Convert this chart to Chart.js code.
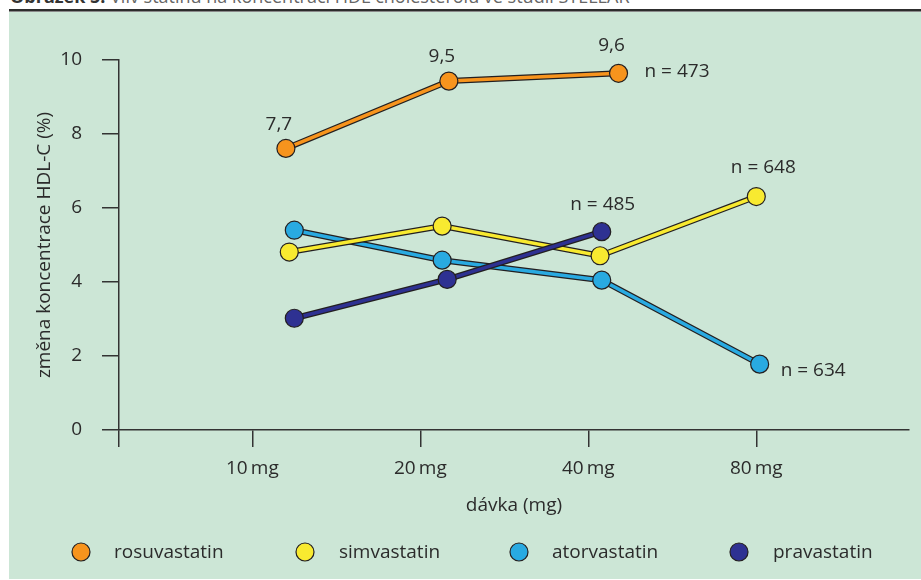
<!DOCTYPE html>
<html>
<head>
<meta charset="utf-8">
<script src="https://cdn.jsdelivr.net/npm/chart.js@4.4.1/dist/chart.umd.min.js"></script>
<style>
  body { margin: 0; background: #fff; width: 921px; height: 580px; overflow: hidden; position: relative; font-family: "Open Sans", sans-serif; }
  .caption { position: absolute; left: 10px; top: -13px; font-size: 18px; line-height: 18px; color: #666; white-space: nowrap; }
  .caption b { color: #333; }
  .rule { position: absolute; left: 9px; top: 9px; width: 912px; height: 2px; background: #2d2d2d; border-bottom: 1px solid #8a8a8a; }
  .panel { position: absolute; left: 9px; top: 12px; width: 912px; height: 567px; background: #cce6d6; }
</style>
</head>
<body>
<div class="caption"><b>Obrázek 5.</b> Vliv statinů na koncentraci HDL cholesterolu ve studii STELLAR</div>
<div class="rule"></div>
<div class="panel"><canvas id="myChart" width="912" height="567"></canvas></div>
<script>
// data
const doses = ["10\u2009mg", "20\u2009mg", "40\u2009mg", "80\u2009mg"];
const names = ["rosuvastatin", "simvastatin", "atorvastatin", "pravastatin"];
const colors = ["#f7941d", "#f8ea30", "#29aae1", "#2e3192"];

// x = dose position (1 = 10 mg ... 4 = 80 mg), points sit a bit right of the ticks
const rosuX = [1.2, 2.17, 3.18];
const rosuY = [7.61, 9.43, 9.64];
const simvaX = [1.22, 2.13, 3.07, 4.0];
const simvaY = [4.81, 5.51, 4.71, 6.31];
const atorX = [1.25, 2.13, 3.08, 4.02];
const atorY = [5.4, 4.59, 4.05, 1.78];
const pravaX = [1.25, 2.16, 3.08];
const pravaY = [3.02, 4.07, 5.36];

const rosuLabels = ["7,7", "9,5", "9,6"];
const nLabels = ["n = 473", "n = 648", "n = 634", "n = 485"];
const yTicks = [0, 2, 4, 6, 8, 10];

const dark = "#231f20";
const textColor = "#2b2b2b";
const font = { family: "'Open Sans'", size: 19 };

const xs = [rosuX, simvaX, atorX, pravaX];
const ys = [rosuY, simvaY, atorY, pravaY];
// drawing rank: 0 = bottom
const rank = [0, 2, 1, 3];

const datasets = [];
names.forEach((name, i) => {
  const pts = xs[i].map((x, j) => ({ x: x, y: ys[i][j] }));
  datasets.push({
    label: name,
    data: pts,
    borderColor: colors[i],
    borderWidth: 3.5,
    pointRadius: 9,
    pointBorderWidth: 1.2,
    pointBorderColor: dark,
    pointBackgroundColor: colors[i],
    order: 2 * (3 - rank[i]),
  });
  // dark casing under the coloured line
  datasets.push({
    label: name + "_case",
    data: pts,
    borderColor: dark,
    borderWidth: 6,
    pointRadius: 0,
    order: 2 * (3 - rank[i]) + 1,
  });
});

const labelPlugin = {
  id: "labels",
  afterDatasetsDraw(chart) {
    const ctx = chart.ctx;
    ctx.save();
    ctx.font = "19px 'Open Sans'";
    ctx.fillStyle = textColor;
    ctx.textBaseline = "middle";

    // value labels on rosuvastatin
    const rosu = chart.getDatasetMeta(0).data;
    ctx.textAlign = "center";
    const dy = [-24, -24, -28];
    rosu.forEach((p, i) => ctx.fillText(rosuLabels[i], p.x - 7, p.y + dy[i]));

    // n = ... at the end of each line
    const last = (i) => {
      const d = chart.getDatasetMeta(i * 2).data;
      return d[d.length - 1];
    };
    let p = last(0);
    ctx.textAlign = "left";
    ctx.fillText(nLabels[0], p.x + 26, p.y - 2);
    p = last(1);
    ctx.textAlign = "center";
    ctx.fillText(nLabels[1], p.x + 7, p.y - 29);
    p = last(2);
    ctx.textAlign = "left";
    ctx.fillText(nLabels[2], p.x + 21, p.y + 6);
    p = last(3);
    ctx.textAlign = "center";
    ctx.fillText(nLabels[3], p.x + 1, p.y - 27);

    // legend
    const circleX = [72, 296, 510, 730];
    const textX = [105, 330, 543, 764];
    const ly = 540;
    ctx.textAlign = "left";
    names.forEach((name, i) => {
      ctx.beginPath();
      ctx.arc(circleX[i], ly, 9, 0, Math.PI * 2);
      ctx.fillStyle = colors[i];
      ctx.fill();
      ctx.lineWidth = 1.2;
      ctx.strokeStyle = dark;
      ctx.stroke();
      ctx.fillStyle = textColor;
      ctx.fillText(name, textX[i], ly + 1);
    });
    ctx.restore();
  },
};

const config = {
  type: "line",
  data: { datasets: datasets },
  options: {
    responsive: false,
    animation: false,
    events: [],
    layout: { padding: { top: 48, right: 12, left: 0, bottom: 0 } },
    scales: {
      x: {
        type: "linear",
        min: 0.2065,
        max: 4.909,
        afterBuildTicks: (scale) => {
          scale.ticks = [scale.min, 1, 2, 3, 4].map((v) => ({ value: v }));
        },
        afterFit: (scale) => {
          scale.height = 149;
        },
        grid: {
          drawOnChartArea: false,
          drawTicks: true,
          tickLength: 17,
          color: "#333",
          lineWidth: 1.5,
        },
        border: { display: true, color: "#333", width: 1.5 },
        ticks: {
          autoSkip: false,
          maxRotation: 0,
          padding: 10,
          color: textColor,
          font: font,
          callback: (value, index) => (index === 0 ? "" : doses[index - 1]),
        },
        title: {
          display: true,
          text: "dávka (mg)",
          color: textColor,
          font: font,
          padding: { top: 0, bottom: 62 },
        },
      },
      y: {
        min: 0,
        max: 10,
        afterBuildTicks: (scale) => {
          scale.ticks = yTicks.map((v) => ({ value: v }));
        },
        afterFit: (scale) => {
          scale.width = 110;
        },
        grid: {
          drawOnChartArea: false,
          drawTicks: true,
          tickLength: 17,
          color: "#333",
          lineWidth: 1.5,
        },
        border: { display: true, color: "#333", width: 1.5 },
        ticks: {
          padding: 20,
          color: textColor,
          font: font,
        },
        title: {
          display: true,
          text: "změna koncentrace HDL-C (%)",
          color: textColor,
          font: font,
          padding: { top: 24, bottom: 0 },
        },
      },
    },
    plugins: {
      legend: { display: false },
      tooltip: { enabled: false },
    },
  },
  plugins: [labelPlugin],
};

const myChart = new Chart(document.getElementById("myChart"), config);
</script>
</body>
</html>
